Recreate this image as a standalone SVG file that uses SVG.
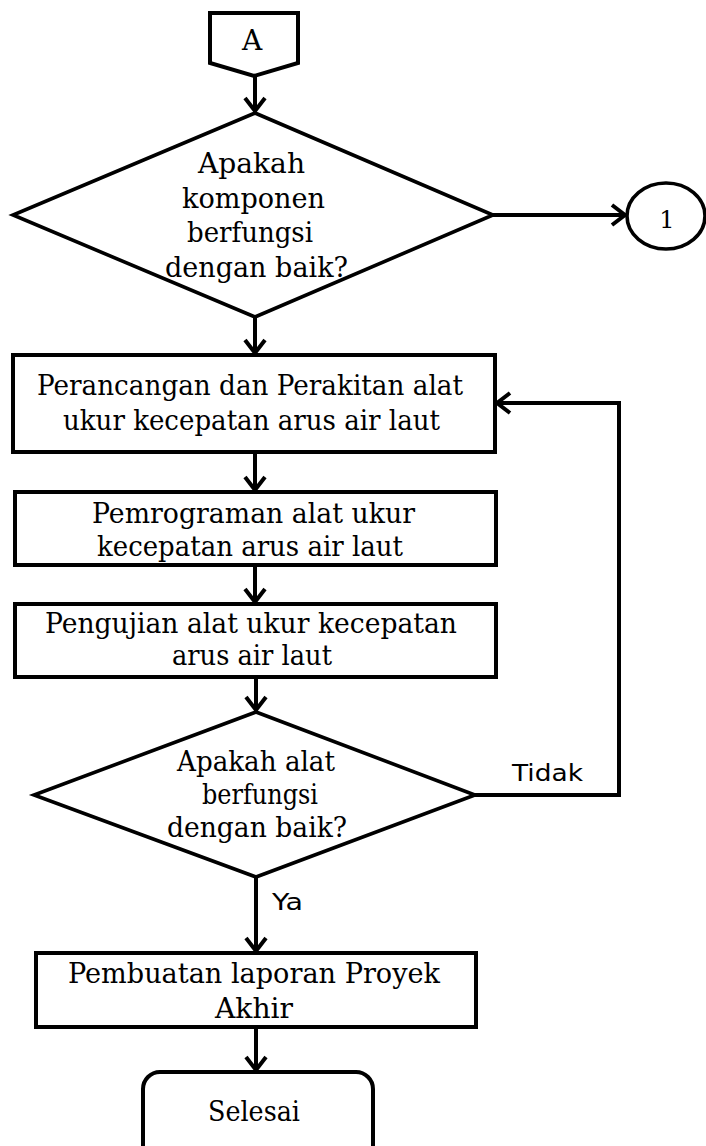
<svg xmlns="http://www.w3.org/2000/svg" width="706" height="1146" viewBox="0 0 706 1146">
<style>
.shape{fill:#fff;stroke:#000;stroke-width:4;stroke-linejoin:miter}
.dia{fill:#fff;stroke:#000;stroke-width:3.6;stroke-linejoin:miter}
.t{font-family:"DejaVu Serif","Liberation Serif",serif;font-size:28px;fill:#000;text-anchor:middle}
.lbl{font-family:"DejaVu Sans","Liberation Sans",sans-serif;font-size:23px;fill:#000}
.conn{fill:none;stroke:#000;stroke-width:4}
</style>
<defs>
<marker id="arr" markerUnits="userSpaceOnUse" markerWidth="30" markerHeight="30" refX="0" refY="0" viewBox="-15 -15 30 30" orient="auto" overflow="visible">
<path d="M -13 -10 L 0 0 L -13 10" fill="none" stroke="#000" stroke-width="4" stroke-linejoin="miter"/>
</marker>
</defs>
<rect width="706" height="1146" fill="#fff"/>
<g id="connectors">
<line class="conn" x1="255" y1="76" x2="255" y2="111" marker-end="url(#arr)"/>
<line class="conn" x1="493" y1="215" x2="625" y2="215" marker-end="url(#arr)"/>
<line class="conn" x1="255" y1="317" x2="255" y2="353" marker-end="url(#arr)"/>
<line class="conn" x1="255" y1="452" x2="255" y2="490" marker-end="url(#arr)"/>
<line class="conn" x1="255" y1="565" x2="255" y2="602" marker-end="url(#arr)"/>
<line class="conn" x1="256" y1="677" x2="256" y2="710" marker-end="url(#arr)"/>
<line class="conn" x1="256" y1="877" x2="256" y2="951" marker-end="url(#arr)"/>
<line class="conn" x1="256" y1="1027" x2="256" y2="1070" marker-end="url(#arr)"/>
<polyline class="conn" points="475,795 619,795 619,403 497,403" marker-end="url(#arr)"/>
<text class="lbl" x="512" y="781" textLength="71" lengthAdjust="spacingAndGlyphs">Tidak</text>
<text class="lbl" x="272" y="910" textLength="31" lengthAdjust="spacingAndGlyphs">Ya</text>
</g>
<g id="nodeA">
<polygon class="shape" points="210,13 298,13 298,63 254,76 210,63"/>
<text class="t" x="252" y="50">A</text>
</g>
<g id="decision1">
<polygon class="dia" points="255,113 493,215 255,317 13,215"/>
<text class="t" x="251.5" y="173" textLength="107" lengthAdjust="spacingAndGlyphs">Apakah</text>
<text class="t" x="253.5" y="208" textLength="143" lengthAdjust="spacingAndGlyphs">komponen</text>
<text class="t" x="250" y="242" textLength="126" lengthAdjust="spacingAndGlyphs">berfungsi</text>
<text class="t" x="256.5" y="277" textLength="183" lengthAdjust="spacingAndGlyphs">dengan baik?</text>
</g>
<g id="connector1">
<ellipse class="dia" cx="666" cy="216" rx="39" ry="33"/>
<text class="t" x="667" y="228" style="font-size:24px">1</text>
</g>
<g id="process1">
<rect class="shape" x="13" y="355" width="482" height="97"/>
<text class="t" x="250" y="395" textLength="426" lengthAdjust="spacingAndGlyphs">Perancangan dan Perakitan alat</text>
<text class="t" x="251.5" y="430" textLength="377" lengthAdjust="spacingAndGlyphs">ukur kecepatan arus air laut</text>
</g>
<g id="process2">
<rect class="shape" x="15" y="492" width="481" height="73"/>
<text class="t" x="253.5" y="523" textLength="323" lengthAdjust="spacingAndGlyphs">Pemrograman alat ukur</text>
<text class="t" x="250" y="556" textLength="306" lengthAdjust="spacingAndGlyphs">kecepatan arus air laut</text>
</g>
<g id="process3">
<rect class="shape" x="15" y="604" width="481" height="73"/>
<text class="t" x="251" y="633" textLength="412" lengthAdjust="spacingAndGlyphs">Pengujian alat ukur kecepatan</text>
<text class="t" x="252" y="665" textLength="160" lengthAdjust="spacingAndGlyphs">arus air laut</text>
</g>
<g id="decision2">
<polygon class="dia" points="256,712 475,795 256,877 34,795"/>
<text class="t" x="256" y="771" textLength="158" lengthAdjust="spacingAndGlyphs">Apakah alat</text>
<text class="t" x="260" y="804" textLength="116" lengthAdjust="spacingAndGlyphs">berfungsi</text>
<text class="t" x="257" y="837" textLength="180" lengthAdjust="spacingAndGlyphs">dengan baik?</text>
</g>
<g id="process4">
<rect class="shape" x="36" y="953" width="440" height="74"/>
<text class="t" x="254" y="983" textLength="372" lengthAdjust="spacingAndGlyphs">Pembuatan laporan Proyek</text>
<text class="t" x="254" y="1018" textLength="78" lengthAdjust="spacingAndGlyphs">Akhir</text>
</g>
<g id="terminal">
<rect class="shape" x="143" y="1072" width="230" height="100" rx="17" ry="17"/>
<text class="t" x="254" y="1121" textLength="92" lengthAdjust="spacingAndGlyphs">Selesai</text>
</g>
</svg>
